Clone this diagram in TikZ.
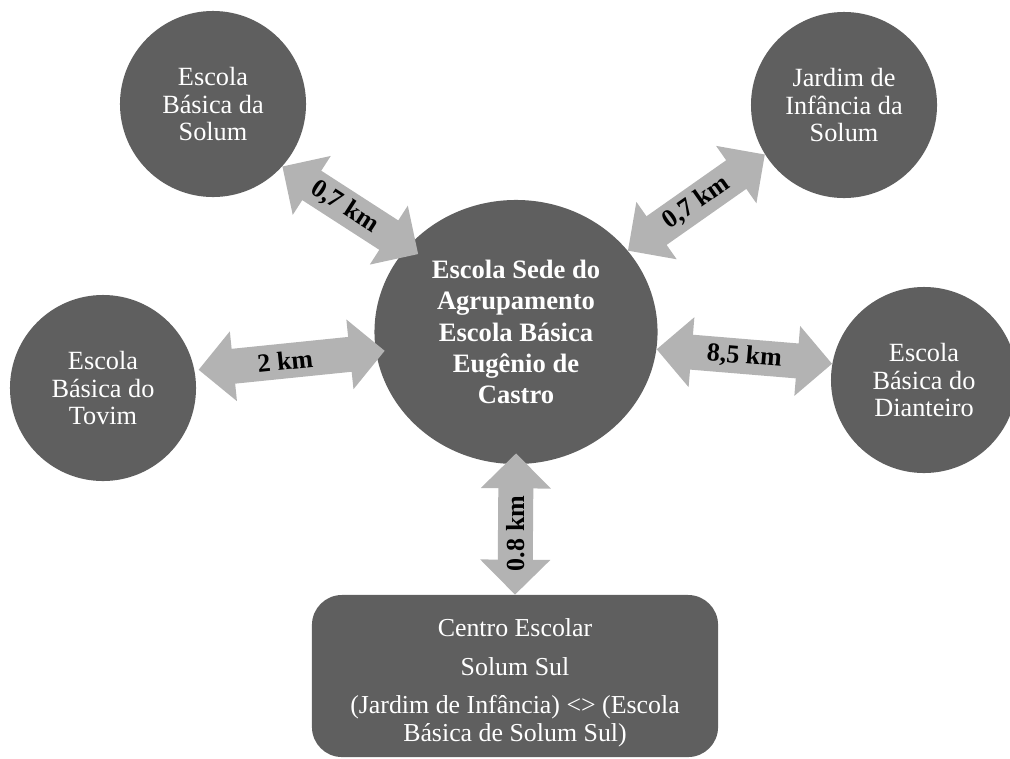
\documentclass[tikz,border=0pt]{standalone}
\usepackage{fontspec}
\setmainfont{Liberation Serif}
\usetikzlibrary{arrows.meta,shapes.geometric}
\definecolor{nodegray}{HTML}{5F5F5F}
\definecolor{arrowgray}{HTML}{B3B3B3}
\tikzset{
  school/.style={circle, fill=nodegray, text=white, minimum size=4.65cm, inner sep=0pt,
    align=center, font=\fontsize{18.7}{19.8}\selectfont},
  hub/.style={ellipse, fill=nodegray, text=white, minimum width=7.075cm, minimum height=6.6cm,
    inner sep=0pt, align=center, font=\bfseries\fontsize{18.9}{22.2}\selectfont},
  centrebox/.style={rectangle, rounded corners=0.75cm, fill=nodegray, text=white,
    minimum width=10.15cm, minimum height=4.05cm, align=center,
    font=\fontsize{18.4}{20}\selectfont},
  dist/.style={line width=0.875cm, draw=arrowgray,
    {Triangle[length=0.875cm,width=1.7cm]}-{Triangle[length=0.875cm,width=1.7cm]}},
  distlabel/.style={font=\bfseries\fontsize{18.5}{20}\selectfont, text=black, inner sep=0pt}
}
\begin{document}
\begin{tikzpicture}[x=0.025cm,y=-0.025cm]
\useasboundingbox (0,0) rectangle (1010,758);
\node[school] (tl) at (213,104) {Escola\\Básica da\\Solum};
\node[school] (tr) at (844,105) {Jardim de\\Infância da\\Solum};
\node[school] (l) at (103,388) {Escola\\Básica do\\Tovim};
\node[school] (r) at (924,380) {Escola\\Básica do\\Dianteiro};
\node[hub] (c) at (516,332) {Escola Sede do\\Agrupamento\\Escola Básica\\Eugênio de\\Castro};
\node[centrebox] (s) at (515,676) {\rule{0pt}{22.6pt}Centro Escolar\\[7.5pt]Solum Sul\\[7pt](Jardim de Infância) <> (Escola\\Básica de Solum Sul)};

\draw[dist, shorten >=-0.325cm] (tl.-42) -- node[distlabel, sloped] {0,7 km} (c.142);
\draw[dist] (c.36) -- node[distlabel, sloped] {0,7 km} (tr.212);
\draw[dist, shorten >=-0.225cm, shorten <=0.1cm] (l.11) -- node[distlabel, sloped] {2 km} (c.188);
\draw[dist] (c.-7) -- node[distlabel, sloped] {8,5 km} (r.170);
\draw[dist, shorten >=-0.275cm] (s.north) -- node[distlabel, rotate=90, pos=0.47] {0.8 km} (c.south);
\end{tikzpicture}
\end{document}
